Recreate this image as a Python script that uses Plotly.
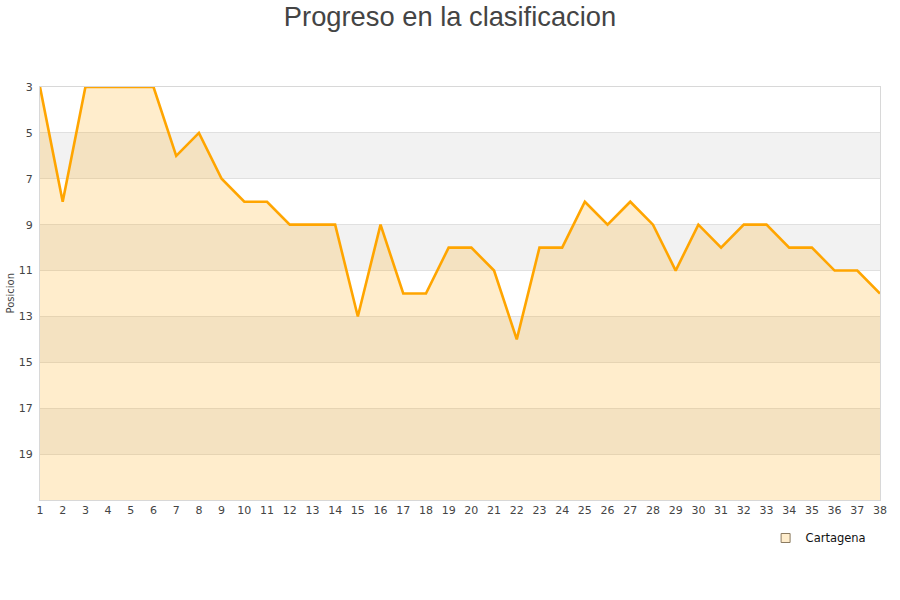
import plotly.graph_objects as go

jornadas = list(range(1, 39))
posicion = [3, 8, 3, 3, 3, 3, 6, 5, 7, 8, 8, 9, 9, 9, 13, 9, 12, 12, 10, 10,
            11, 14, 10, 10, 8, 9, 8, 9, 11, 9, 10, 9, 9, 10, 10, 11, 11, 12]
equipo = "Cartagena"
y_ticks = [3, 5, 7, 9, 11, 13, 15, 17, 19]
y_bottom = 21
gray_bands = [(5, 7), (9, 11), (13, 15), (17, 19)]

fig = go.Figure()

# baseline for fill
fig.add_trace(go.Scatter(x=jornadas, y=[y_bottom] * len(jornadas), mode="lines",
                         line=dict(width=0), showlegend=False, hoverinfo="skip"))
fig.add_trace(go.Scatter(x=jornadas, y=posicion, mode="lines", fill="tonexty",
                         fillcolor="rgba(255,165,0,0.2)",
                         line=dict(color="#FFA500", width=2.6),
                         showlegend=False, name=equipo))
# legend entry
fig.add_trace(go.Scatter(x=[None], y=[None], mode="markers", name=equipo,
                         marker=dict(symbol="square", size=9, color="#FFEDCC",
                                     line=dict(color="#8a7a60", width=1))))

for a, b in gray_bands:
    fig.add_shape(type="rect", xref="paper", yref="y", x0=0, x1=1, y0=a, y1=b,
                  fillcolor="#F2F2F2", line=dict(width=0), layer="below")

fig.add_annotation(text="Posicion", xref="paper", yref="paper", x=0, y=0.5,
                   xshift=-30, textangle=-90, showarrow=False,
                   xanchor="center", yanchor="middle",
                   font=dict(family="DejaVu Sans", size=10, color="#444444"))

fig.update_layout(
    width=900, height=600,
    paper_bgcolor="white", plot_bgcolor="white",
    margin=dict(l=40, r=20, t=87, b=100, autoexpand=False),
    title=dict(text="Progreso en la clasificacion", x=0.5, xanchor="center",
               yref="container", y=1 - 16 / 600, yanchor="middle",
               font=dict(family="Liberation Sans, Arial", size=27.3, color="#444444")),
    font=dict(family="DejaVu Sans", size=11, color="#444444"),
    showlegend=True,
    legend=dict(x=0.99, y=-0.092, xanchor="right", yanchor="middle",
                font=dict(family="DejaVu Sans", size=11.5, color="#111111"),
                bgcolor="rgba(0,0,0,0)"),
    xaxis=dict(range=[1, 38], tickmode="array", tickvals=jornadas,
               ticktext=[str(j) for j in jornadas], showgrid=False, zeroline=False,
               showline=True, linecolor="#D8D8D8", linewidth=1, mirror=True,
               ticks="", tickfont=dict(size=11, color="#444444"), automargin=False),
    yaxis=dict(range=[y_bottom, 3], tickmode="array", tickvals=y_ticks,
               ticktext=[str(t) for t in y_ticks], showgrid=True,
               gridcolor="#E0E0E0", gridwidth=1, zeroline=False,
               showline=True, linecolor="#D8D8D8", linewidth=1, mirror=True,
               ticks="", ticklabelstandoff=4, automargin=False,
               tickfont=dict(size=11, color="#444444")),
)

fig.write_html("out.html", config={"displayModeBar": False},
               post_script="document.body.style.margin='0';document.body.style.overflow='hidden';")
